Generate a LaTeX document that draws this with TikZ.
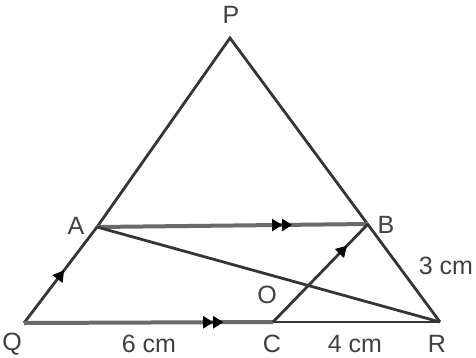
\documentclass[tikz,border=0pt]{standalone}
\usepackage{fontspec}
\setmainfont{Liberation Sans}
\usetikzlibrary{arrows.meta,decorations.markings,calc}
\definecolor{ink}{HTML}{353535}
\definecolor{txt}{HTML}{404040}
\definecolor{lite}{HTML}{6A6A6A}
\tikzset{
  edge/.style={draw=ink,line width=2.8pt},
  paredge/.style={draw=lite,line width=4pt},
  lbl/.style={text=txt,font=\fontsize{25}{29}\selectfont,inner sep=0pt},
  onearrow/.style={postaction={decorate,decoration={markings,
     mark=at position #1 with {\arrow[black]{Triangle[length=11pt,width=12pt]}}}}},
  twoarrow/.style={postaction={decorate,decoration={markings,
     mark=at position #1 with {\arrow[black]{Triangle[length=10pt,width=12pt] Triangle[length=10pt,width=12pt]}}}}}
}
\begin{document}
\begin{tikzpicture}[x=1pt,y=-1pt]
\useasboundingbox (0,0) rectangle (476,357);
\coordinate (P) at (230,38);
\coordinate (Q) at (24,323);
\coordinate (R) at (440,322);
\coordinate (A) at (97,227);
\coordinate (B) at (368,224);
\coordinate (C) at (273,322);
\coordinate (O) at (intersection of A--R and C--B);
% triangle sides
\draw[edge] (A) -- (P) -- (R);
\draw[edge,onearrow=0.55] (Q) -- (A);
\draw[paredge,twoarrow=0.8] (Q) -- (C);
\draw[edge] (C) -- (R);
\draw[paredge,twoarrow=0.72] (A) -- (B);
\draw[edge] (A) -- (R);
\draw[edge,onearrow=0.78] (C) -- (B);
% labels
\node[lbl] (lP) at (231,15) {P};
\node[lbl] (lA) at (76,226) {A};
\node[lbl] (lB) at (386,225) {B};
\node[lbl] (lQ) at (12,344) {Q};
\node[lbl] (lC) at (272,344) {C};
\node[lbl] (lR) at (437,344) {R};
\node[lbl] (lO) at (267,295) {O};
\node[lbl] (l3) at (446,266) {3 cm};
\node[lbl] (l6) at (149,344) {6 cm};
\node[lbl] (l4) at (355,344) {4 cm};
\end{tikzpicture}
\end{document}
